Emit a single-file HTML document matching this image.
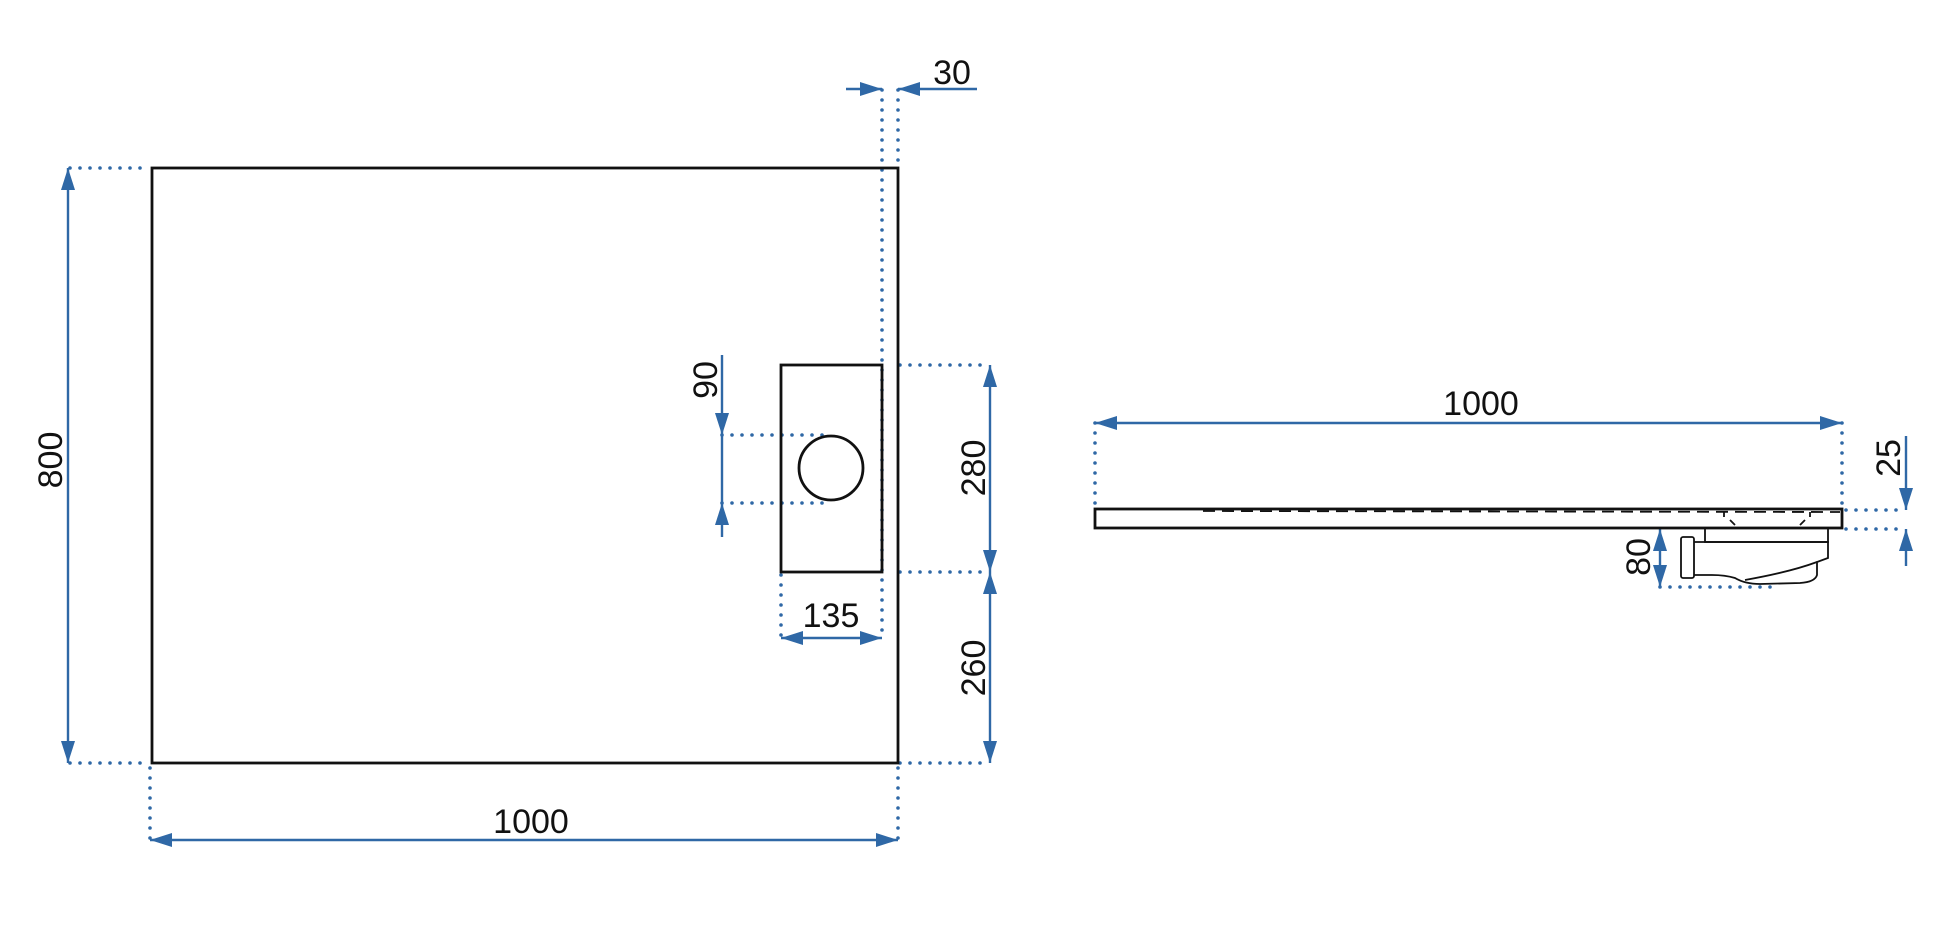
<!DOCTYPE html>
<html><head><meta charset="utf-8"><style>
html,body{margin:0;padding:0;background:#fff}
svg{display:block}
text{font-family:"Liberation Sans",sans-serif;font-size:34px;fill:#111}
</style></head><body>
<svg width="1946" height="933" viewBox="0 0 1946 933" xmlns="http://www.w3.org/2000/svg">
<defs>
<marker id="a" viewBox="0 0 22 14" refX="22" refY="7" markerWidth="22" markerHeight="14" markerUnits="userSpaceOnUse" orient="auto-start-reverse">
<path d="M0,0 L22,7 L0,14 z" fill="#2f68a6"/>
</marker>
</defs>
<g stroke="#2f68a6" stroke-width="3.6" stroke-dasharray="0 10" stroke-linecap="round" fill="none">
<path d="M70 168 H150 M70 763 H150"/>
<path d="M150 768 V840 M898 768 V840"/>
<path d="M882 90 V638 M898 90 V165"/>
<path d="M781 575 V638"/>
<path d="M900 365 H990 M900 572 H990 M900 763 H990"/>
<path d="M722 435 H825 M722 503 H825"/>
<path d="M1095 423 V506 M1842 423 V506"/>
<path d="M1846 510 H1906 M1846 529 H1906"/>
<path d="M1660 587 H1780"/>
</g>
<g stroke="#2f68a6" stroke-width="2.4" fill="none">
<line x1="68" y1="168" x2="68" y2="763" marker-start="url(#a)" marker-end="url(#a)"/>
<line x1="150" y1="840" x2="898" y2="840" marker-start="url(#a)" marker-end="url(#a)"/>
<line x1="846" y1="89" x2="882" y2="89" marker-end="url(#a)"/>
<line x1="977" y1="89" x2="898" y2="89" marker-end="url(#a)"/>
<line x1="722" y1="355" x2="722" y2="435" marker-end="url(#a)"/>
<line x1="722" y1="537" x2="722" y2="503" marker-end="url(#a)"/>
<line x1="722" y1="435" x2="722" y2="503"/>
<line x1="990" y1="365" x2="990" y2="572" marker-start="url(#a)" marker-end="url(#a)"/>
<line x1="990" y1="572" x2="990" y2="763" marker-start="url(#a)" marker-end="url(#a)"/>
<line x1="781" y1="638" x2="882" y2="638" marker-start="url(#a)" marker-end="url(#a)"/>
<line x1="1095" y1="423" x2="1842" y2="423" marker-start="url(#a)" marker-end="url(#a)"/>
<line x1="1906" y1="436" x2="1906" y2="510" marker-end="url(#a)"/>
<line x1="1906" y1="566" x2="1906" y2="529" marker-end="url(#a)"/>
<line x1="1660" y1="529" x2="1660" y2="587" marker-start="url(#a)" marker-end="url(#a)"/>
</g>
<g stroke="#111" stroke-width="2.8" fill="none">
<rect x="152" y="168" width="746" height="595"/>
<rect x="781" y="365" width="101" height="207"/>
<circle cx="831" cy="468" r="32"/>
<rect x="1095" y="509" width="747" height="19" fill="#fff"/>
</g>
<g stroke="#111" stroke-width="1.8" fill="none">
<path d="M1203 511 L1840 512" stroke-dasharray="12 7"/>
<path d="M1724 512 v5 M1730 520 l5 5 M1810 512 v5 M1805 520 l-5 5"/>
<rect x="1705" y="528" width="123" height="14"/>
<path d="M1694 542 H1828 V558 L1817 562 V575 Q1815 582 1800 583 L1760 584 Q1745 584 1735 578 Q1725 575 1712 575 H1694"/>
<path d="M1817 562 Q1790 572 1745 580"/>
<rect x="1681" y="537" width="13" height="41" rx="2"/>
</g>
<text x="531" y="833" text-anchor="middle">1000</text>
<text transform="translate(62,460) rotate(-90)" text-anchor="middle">800</text>
<text x="952" y="84" text-anchor="middle">30</text>
<text transform="translate(717,380) rotate(-90)" text-anchor="middle">90</text>
<text transform="translate(985,468) rotate(-90)" text-anchor="middle">280</text>
<text transform="translate(985,668) rotate(-90)" text-anchor="middle">260</text>
<text x="831" y="627" text-anchor="middle">135</text>
<text x="1481" y="415" text-anchor="middle">1000</text>
<text transform="translate(1900,458) rotate(-90)" text-anchor="middle">25</text>
<text transform="translate(1650,557) rotate(-90)" text-anchor="middle">80</text>
</svg>
</body></html>
